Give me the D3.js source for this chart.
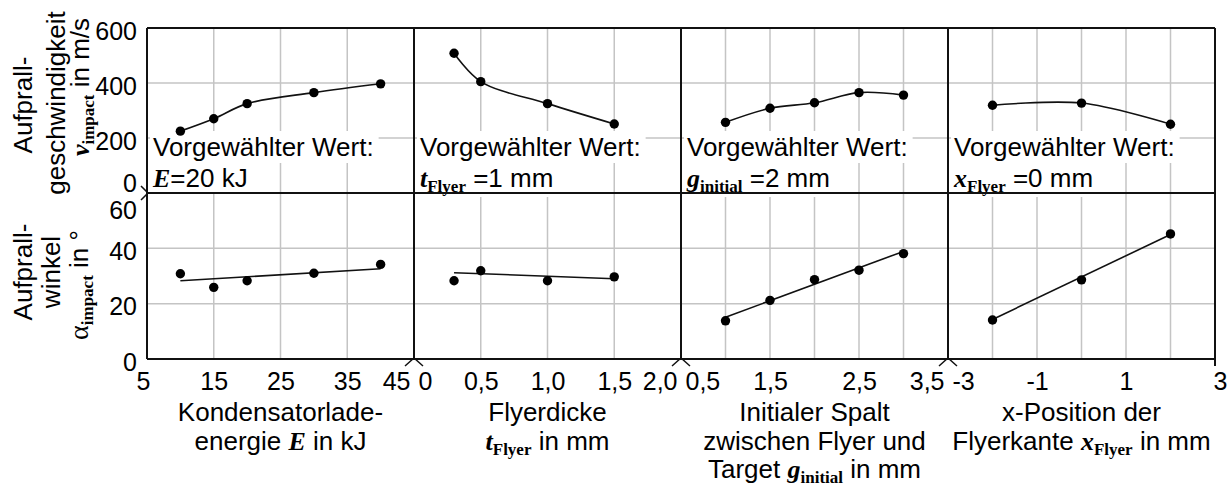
<!DOCTYPE html>
<html>
<head>
<meta charset="utf-8">
<script src="https://cdn.jsdelivr.net/npm/d3@7"></script>
<style>
body { margin: 0; background: #fff; }
svg { display: block; font-family: "Liberation Sans", Arial, sans-serif; }
</style>
</head>
<body>
<svg></svg>
<script>
// values
let energyKJ = [10, 15, 20, 30, 40]
let energyVelocity = [225, 270, 325, 365, 397]
let energyAngle = [30.8, 25.9, 28.3, 31.0, 34.2]
let energyAngleFit = [28.3, 32.6]

let thicknessMM = [0.3, 0.5, 1.0, 1.5]
let thicknessVelocity = [508, 405, 325, 251]
let thicknessAngle = [28.3, 31.9, 28.3, 29.7]
let thicknessAngleFit = [31.2, 29.0]

let gapMM = [1.0, 1.5, 2.0, 2.5, 3.0]
let gapVelocity = [257, 308, 328, 365, 356]
let gapAngle = [13.8, 21.2, 28.7, 32.1, 38.1]
let gapAngleFit = [15.1, 38.9]

let positionMM = [-2, 0, 2]
let positionVelocity = [319, 327, 250]
let positionAngle = [14.1, 28.6, 45.2]
let positionAngleFit = [14.3, 45.0]

// axes
let energyDomain = [5, 45]
let energyTicks = [5, 15, 25, 35, 45]
let energyTickLabels = ['5', '15', '25', '35', '45']
let energyGrid = [15, 25, 35]

let thicknessDomain = [0, 2]
let thicknessTicks = [0, 0.5, 1.0, 1.5, 2.0]
let thicknessTickLabels = ['0', '0,5', '1,0', '1,5', '2,0']
let thicknessGrid = [0.5, 1.0, 1.5]

let gapDomain = [0.5, 3.5]
let gapTicks = [0.5, 1.5, 2.5, 3.5]
let gapTickLabels = ['0,5', '1,5', '2,5', '3,5']
let gapGrid = [1.0, 1.5, 2.0, 2.5, 3.0]

let positionDomain = [-3, 3]
let positionTicks = [-3, -1, 1, 3]
let positionTickLabels = ['-3', '-1', '1', '3']
let positionGrid = [-2, -1, 0, 1, 2]

let velocityDomain = [0, 600]
let velocityTicks = [0, 200, 400, 600]
let velocityGrid = [200, 400]
let angleDomain = [0, 60]
let angleTicks = [0, 20, 40, 60]
let angleGrid = [20, 40]

// texts (s: 'var' = bold italic serif symbol, 'sym' = plain serif, 'sub' = bold serif subscript)
let presetTexts = [
  [{t: 'E', s: 'var'}, {t: '=20 kJ'}],
  [{t: 't', s: 'var'}, {t: 'Flyer', s: 'sub'}, {t: ' =1 mm'}],
  [{t: 'g', s: 'var'}, {t: 'initial', s: 'sub'}, {t: ' =2 mm'}],
  [{t: 'x', s: 'var'}, {t: 'Flyer', s: 'sub'}, {t: ' =0 mm'}]
]
let xTitles = [
  [[{t: 'Kondensatorlade-'}], [{t: 'energie '}, {t: 'E', s: 'var'}, {t: ' in kJ'}]],
  [[{t: 'Flyerdicke'}], [{t: 't', s: 'var'}, {t: 'Flyer', s: 'sub'}, {t: ' in mm'}]],
  [[{t: 'Initialer Spalt'}], [{t: 'zwischen Flyer und'}], [{t: 'Target '}, {t: 'g', s: 'var'}, {t: 'initial', s: 'sub'}, {t: ' in mm'}]],
  [[{t: 'x-Position der'}], [{t: 'Flyerkante '}, {t: 'x', s: 'var'}, {t: 'Flyer', s: 'sub'}, {t: ' in mm'}]]
]

let width = 1232
let height = 489
let plotLeft = 147
let panelW = 267
let plotTop = 28
let plotMid = 193
let plotBottom = 359
let fontSize = 26
let serif = '"Liberation Serif", "Times New Roman", serif'

let svg = d3.select('svg')

let panels = [
  {x: energyKJ, v: energyVelocity, a: energyAngle, fit: energyAngleFit, domain: energyDomain, ticks: energyTicks, labels: energyTickLabels, grid: energyGrid},
  {x: thicknessMM, v: thicknessVelocity, a: thicknessAngle, fit: thicknessAngleFit, domain: thicknessDomain, ticks: thicknessTicks, labels: thicknessTickLabels, grid: thicknessGrid},
  {x: gapMM, v: gapVelocity, a: gapAngle, fit: gapAngleFit, domain: gapDomain, ticks: gapTicks, labels: gapTickLabels, grid: gapGrid},
  {x: positionMM, v: positionVelocity, a: positionAngle, fit: positionAngleFit, domain: positionDomain, ticks: positionTicks, labels: positionTickLabels, grid: positionGrid}
]

let yTop = d3.scaleLinear().domain(velocityDomain).range([plotMid, plotTop])
let yBottom = d3.scaleLinear().domain(angleDomain).range([plotBottom, plotMid])

// function: addRich - text made of plain, symbol and subscript pieces
let addRich = (text, parts) => {
  let inSub = false
  parts.forEach((p) => {
    let ts = text.append('tspan').text(p.t)
    if (p.s == 'var') {
      ts.attr('font-family', serif).attr('font-weight', 'bold').attr('font-style', 'italic')
    } else if (p.s == 'sym') {
      ts.attr('font-family', serif).attr('font-size', 28)
    } else if (p.s == 'sub') {
      ts.attr('font-family', serif).attr('font-weight', 'bold').attr('font-size', 17).attr('dy', 5)
    }
    if (inSub && p.s != 'sub') ts.attr('dy', -5)
    inSub = p.s == 'sub'
  })
}

// function: drawCanvas
let drawCanvas = () => {
  svg.attr('width', width).attr('height', height)
  panels.forEach((p, i) => {
    p.xScale = d3.scaleLinear().domain(p.domain).range([plotLeft + i * panelW, plotLeft + (i + 1) * panelW])
  })
}

// function: drawGrid
let drawGrid = () => {
  let g = svg.append('g').attr('stroke', '#c4c4c4').attr('stroke-width', 1.5)
  velocityGrid.forEach((d) => {
    g.append('line').attr('x1', plotLeft).attr('x2', plotLeft + 4 * panelW).attr('y1', yTop(d)).attr('y2', yTop(d))
  })
  angleGrid.forEach((d) => {
    g.append('line').attr('x1', plotLeft).attr('x2', plotLeft + 4 * panelW).attr('y1', yBottom(d)).attr('y2', yBottom(d))
  })
  panels.forEach((p) => {
    p.grid.forEach((d) => {
      g.append('line').attr('x1', p.xScale(d)).attr('x2', p.xScale(d)).attr('y1', plotTop).attr('y2', plotBottom)
    })
  })
}

// function: drawPresets
let drawPresets = () => {
  panels.forEach((p, i) => {
    let x0 = plotLeft + i * panelW + 6
    let g = svg.append('g').attr('font-size', fontSize)
    let t1 = g.append('text').attr('x', x0).attr('y', 156).text('Vorgewählter Wert:')
    let t2 = g.append('text').attr('x', x0).attr('y', 187)
    addRich(t2, presetTexts[i])
    ;[t1, t2].forEach((t) => {
      let b = t.node().getBBox()
      g.insert('rect', 'text').attr('x', b.x - 3).attr('y', b.y - 1).attr('width', b.width + 8).attr('height', b.height + 2).attr('fill', '#fff')
    })
  })
}

// function: drawSeries
let drawSeries = () => {
  panels.forEach((p) => {
    let topPts = p.x.map((d, k) => [p.xScale(d), yTop(p.v[k])])
    let botPts = p.x.map((d, k) => [p.xScale(d), yBottom(p.a[k])])
    let curve = d3.line().curve(d3.curveCatmullRom.alpha(0.5))
    svg.append('path').attr('d', curve(topPts)).attr('fill', 'none').attr('stroke', '#111').attr('stroke-width', 1.6)
    let fitLine = [[p.xScale(p.x[0]), yBottom(p.fit[0])], [p.xScale(p.x[p.x.length - 1]), yBottom(p.fit[1])]]
    svg.append('path').attr('d', d3.line()(fitLine)).attr('fill', 'none').attr('stroke', '#111').attr('stroke-width', 1.6)
    svg.selectAll(null).data(topPts.concat(botPts)).enter()
      .append('circle')
      .attr('cx', (d) => d[0])
      .attr('cy', (d) => d[1])
      .attr('r', 4.7)
      .attr('fill', '#000')
  })
}

// function: drawFrame
let drawFrame = () => {
  let g = svg.append('g').attr('stroke', '#111').attr('stroke-width', 2).attr('fill', 'none')
  for (let i = 0; i <= 4; i++) {
    let x = plotLeft + i * panelW
    g.append('line').attr('x1', x).attr('x2', x).attr('y1', plotTop).attr('y2', i == 4 ? plotBottom + 7 : plotBottom)
  }
  ;[plotTop, plotMid, plotBottom].forEach((y) => {
    g.append('line').attr('x1', plotLeft).attr('x2', plotLeft + 4 * panelW).attr('y1', y).attr('y2', y)
  })
  // axis break marks
  for (let i = 1; i <= 3; i++) {
    let x = plotLeft + i * panelW
    g.append('path').attr('d', 'M' + (x - 9) + ',' + (plotBottom + 7) + 'L' + x + ',' + (plotBottom - 1) + 'L' + (x + 9) + ',' + (plotBottom + 7))
      .attr('stroke-width', 1.5)
  }
  g.append('path').attr('d', 'M' + (plotLeft - 6) + ',' + (plotMid - 7) + 'L' + (plotLeft + 1) + ',' + plotMid + 'L' + (plotLeft - 6) + ',' + (plotMid + 7))
    .attr('stroke-width', 1.5)
}

// function: drawAxes
let drawAxes = () => {
  panels.forEach((p, i) => {
    let xAxis = d3.axisBottom(p.xScale).tickValues(p.ticks).tickFormat((d, k) => p.labels[k]).tickSize(0).tickPadding(13)
    let g = svg.append('g').attr('transform', 'translate(0,' + plotBottom + ')').call(xAxis)
    g.attr('font-size', 25).attr('font-family', null).attr('color', '#000')
    g.select('.domain').remove()
    let n = p.ticks.length
    g.selectAll('text').each(function (d, k) {
      let t = d3.select(this)
      if (k == 0 && i > 0) t.attr('text-anchor', 'start').attr('x', 4)
      if (k == 0 && i == 0) t.attr('x', -4)
      if (k == n - 1 && i < 3) t.attr('text-anchor', 'end').attr('x', -4)
      if (k == n - 1 && i == 3) t.attr('x', 5)
    })
  })

  let yAxisTop = d3.axisLeft(yTop).tickValues(velocityTicks).tickSize(0).tickPadding(10)
  let gt = svg.append('g').attr('transform', 'translate(' + plotLeft + ',0)').call(yAxisTop)
  gt.attr('font-size', 25).attr('font-family', null).attr('color', '#000')
  gt.select('.domain').remove()
  gt.selectAll('text').attr('y', (d) => d == 0 ? -10 : 3)

  let yAxisBottom = d3.axisLeft(yBottom).tickValues(angleTicks).tickSize(0).tickPadding(10)
  let gb = svg.append('g').attr('transform', 'translate(' + plotLeft + ',0)').call(yAxisBottom)
  gb.attr('font-size', 25).attr('font-family', null).attr('color', '#000')
  gb.select('.domain').remove()
  gb.selectAll('text').attr('y', (d) => d == 60 ? 17 : 3)
}

// function: drawTitles
let drawTitles = () => {
  let baselines = [421, 450, 478]
  panels.forEach((p, i) => {
    let cx = plotLeft + (i + 0.5) * panelW
    xTitles[i].forEach((line, k) => {
      let t = svg.append('text').attr('x', cx).attr('y', baselines[k]).attr('text-anchor', 'middle').attr('font-size', fontSize)
      addRich(t, line)
    })
  })

  let yLines = [
    {x: 32, y: 105, parts: [{t: 'Aufprall-'}]},
    {x: 65, y: 103, parts: [{t: 'geschwindigkeit'}]},
    {x: 89, y: 87, parts: [{t: 'v', s: 'var'}, {t: 'impact', s: 'sub'}, {t: ' in m/s'}]},
    {x: 32, y: 272, parts: [{t: 'Aufprall-'}]},
    {x: 60, y: 272, parts: [{t: 'winkel'}]},
    {x: 88, y: 285, parts: [{t: 'α', s: 'sym'}, {t: 'impact', s: 'sub'}, {t: ' in °'}]}
  ]
  yLines.forEach((l) => {
    let t = svg.append('text')
      .attr('transform', 'translate(' + l.x + ',' + l.y + ') rotate(-90)')
      .attr('text-anchor', 'middle')
      .attr('font-size', fontSize)
    addRich(t, l.parts)
  })
}

drawCanvas()
drawGrid()
drawPresets()
drawSeries()
drawFrame()
drawAxes()
drawTitles()
</script>
</body>
</html>
